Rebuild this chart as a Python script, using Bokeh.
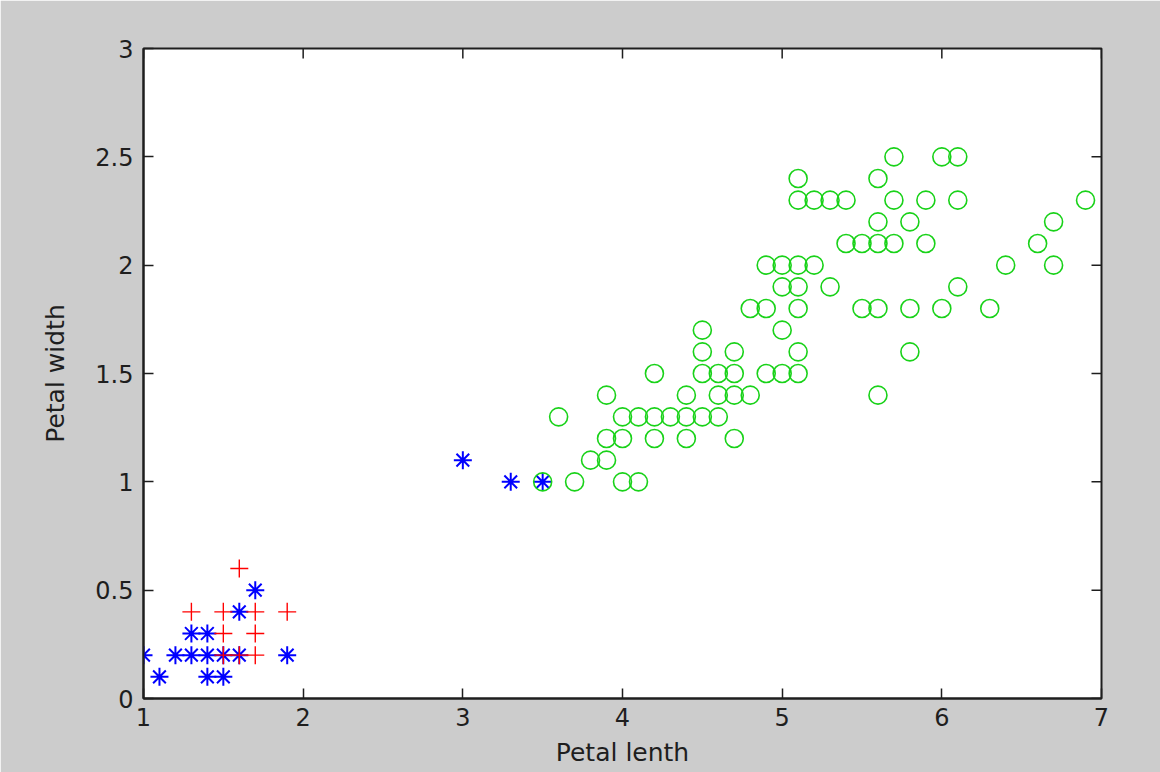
import math
from bokeh.plotting import figure
from bokeh.models import Range1d, FixedTicker
from bokeh.embed import file_html
from bokeh.resources import INLINE

# ---- data ----
red_x = [1.6, 1.3, 1.5, 1.7, 1.9, 1.5, 1.7, 1.5, 1.6, 1.7]
red_y = [0.6, 0.4, 0.4, 0.4, 0.4, 0.3, 0.3, 0.2, 0.2, 0.2]

blue_x = [1.7, 1.6, 1.3, 1.4, 1.0, 1.2, 1.3, 1.4, 1.5, 1.6, 1.9, 1.1, 1.4, 1.5, 3.0, 3.3, 3.5]
blue_y = [0.5, 0.4, 0.3, 0.3, 0.2, 0.2, 0.2, 0.2, 0.2, 0.2, 0.2, 0.1, 0.1, 0.1, 1.1, 1.0, 1.0]

green_x = [3.5, 3.7, 4.0, 4.1,
           3.8, 3.9,
           3.9, 4.0, 4.2, 4.4, 4.7,
           3.6, 4.0, 4.1, 4.2, 4.3, 4.4, 4.5, 4.6,
           3.9, 4.4, 4.6, 4.7, 4.8, 5.6,
           4.2, 4.5, 4.6, 4.7, 4.9, 5.0, 5.1,
           4.5, 4.7, 5.1, 5.8,
           4.5, 5.0,
           4.8, 4.9, 5.1, 5.5, 5.6, 5.8, 6.0, 6.3,
           5.0, 5.1, 5.3, 6.1,
           4.9, 5.0, 5.1, 5.2, 6.4, 6.7,
           5.4, 5.5, 5.6, 5.7, 5.9, 6.6,
           5.6, 5.8, 6.7,
           5.1, 5.2, 5.3, 5.4, 5.7, 5.9, 6.1, 6.9,
           5.1, 5.6,
           5.7, 6.0, 6.1]
green_y = [1.0, 1.0, 1.0, 1.0,
           1.1, 1.1,
           1.2, 1.2, 1.2, 1.2, 1.2,
           1.3, 1.3, 1.3, 1.3, 1.3, 1.3, 1.3, 1.3,
           1.4, 1.4, 1.4, 1.4, 1.4, 1.4,
           1.5, 1.5, 1.5, 1.5, 1.5, 1.5, 1.5,
           1.6, 1.6, 1.6, 1.6,
           1.7, 1.7,
           1.8, 1.8, 1.8, 1.8, 1.8, 1.8, 1.8, 1.8,
           1.9, 1.9, 1.9, 1.9,
           2.0, 2.0, 2.0, 2.0, 2.0, 2.0,
           2.1, 2.1, 2.1, 2.1, 2.1, 2.1,
           2.2, 2.2, 2.2,
           2.3, 2.3, 2.3, 2.3, 2.3, 2.3, 2.3, 2.3,
           2.4, 2.4,
           2.5, 2.5, 2.5]

x_ticks = [1, 2, 3, 4, 5, 6, 7]
y_ticks = [0, 0.5, 1, 1.5, 2, 2.5, 3]
y_tick_labels = ["0", "0.5", "1", "1.5", "2", "2.5", "3"]
x_label = "Petal lenth"
y_label = "Petal width"

X0, X1 = 1, 7
Y0, Y1 = 0, 3

FONT = "DejaVu Sans"
DARK = "#1e1e1e"

p = figure(width=1160, height=772, output_backend="svg", toolbar_location=None,
           x_range=Range1d(X0, X1), y_range=Range1d(Y0, Y1),
           min_border_left=143, min_border_right=59, min_border_top=48, min_border_bottom=74)
p.border_fill_color = "#cccccc"
p.background_fill_color = "white"
p.outline_line_color = DARK
p.outline_line_width = 2
p.grid.visible = False

p.xaxis.ticker = FixedTicker(ticks=x_ticks)
p.yaxis.ticker = FixedTicker(ticks=y_ticks)
p.yaxis.major_label_overrides = {t: l for t, l in zip(y_ticks, y_tick_labels)}
p.xaxis.axis_label = x_label
p.yaxis.axis_label = y_label

for ax in p.xaxis + p.yaxis:
    ax.major_tick_in = 10
    ax.major_tick_out = 0
    ax.minor_tick_in = 0
    ax.minor_tick_out = 0
    ax.major_tick_line_color = DARK
    ax.major_tick_line_width = 1.5
    ax.axis_line_color = DARK
    ax.axis_line_width = 2
    ax.major_label_text_font = FONT
    ax.major_label_text_font_size = "24px"
    ax.major_label_text_color = DARK
    ax.axis_label_text_font = FONT
    ax.axis_label_text_font_size = "25px"
    ax.axis_label_text_font_style = "normal"
    ax.axis_label_text_color = DARK

p.xaxis.major_label_standoff = 9
p.xaxis.axis_label_standoff = 9
p.yaxis.major_label_standoff = 10
p.yaxis.axis_label_standoff = 22

# mirrored inward ticks on top and right edges (box style); half of each
# dash lies outside the frame and is clipped away
p.scatter(x_ticks, [Y1] * len(x_ticks), marker="dash", size=20, angle=math.pi / 2,
          line_color=DARK, line_width=1.5)
p.scatter([X1] * len(y_ticks), y_ticks, marker="dash", size=20,
          line_color=DARK, line_width=1.5)

p.scatter(blue_x, blue_y, marker="asterisk", size=18, line_color="#0000ff", line_width=2)
p.scatter(red_x, red_y, marker="cross", size=18, line_color="#ff0000", line_width=1.4)
p.scatter(green_x, green_y, marker="circle", size=18, fill_color=None,
          line_color="#19d219", line_width=1.6)

open("out.html", "w").write(file_html(p, INLINE))
